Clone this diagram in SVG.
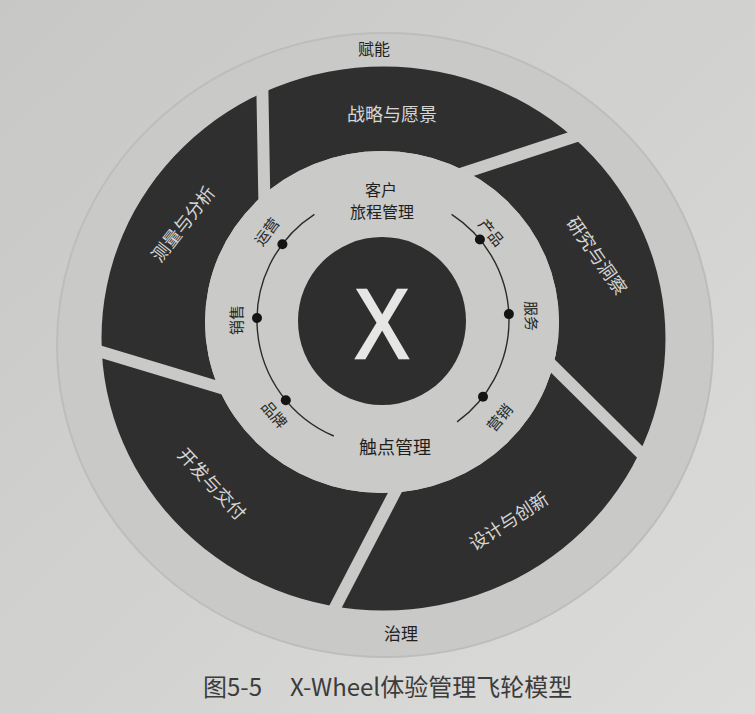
<svg xmlns="http://www.w3.org/2000/svg" width="755" height="714" viewBox="0 0 755 714">
  <style>
    .cjk { font-family: "Noto Sans CJK SC", "Liberation Sans", sans-serif; }
    .seg { fill: #2f2f2f; }
    .segtxt { font-size: 18px; fill: #d6d6d4; text-anchor: middle; dominant-baseline: central; }
    .small { font-size: 15px; fill: #262626; text-anchor: middle; dominant-baseline: central; }
    .title { font-size: 17px; fill: #1f1f1f; text-anchor: middle; dominant-baseline: central; }
    .gap { stroke: #c9c9c7; stroke-width: 12; fill: none; }
    .arc { stroke: #2a2a2a; stroke-width: 1.4; fill: none; }
    .dot { fill: #141414; }
  </style>
  <defs>
    <linearGradient id="bg" x1="0" y1="0" x2="1" y2="1">
      <stop offset="0" stop-color="#c7c7c5"/>
      <stop offset="1" stop-color="#dcdcda"/>
    </linearGradient>
    <path id="ring" fill-rule="evenodd" d="M 101.5 338.5 A 282 272 0 1 0 665.5 338.5 A 282 272 0 1 0 101.5 338.5 Z M 205 322 A 177 171 0 1 0 559 322 A 177 171 0 1 0 205 322 Z"/>
    <clipPath id="c1"><polygon points="265,237 259,-100 900,-100 900,30"/></clipPath>
    <clipPath id="c2"><polygon points="384,199 900,30 900,709"/></clipPath>
    <clipPath id="c3"><polygon points="491,305 1000,808 1000,1000 131,1000"/></clipPath>
    <clipPath id="c4"><polygon points="418,448 131,1000 -200,1000 -200,262"/></clipPath>
    <clipPath id="c5"><polygon points="271,403 -200,261 -200,-100 259,-100"/></clipPath>
    <clipPath id="outerClip"><ellipse cx="383.5" cy="338.5" rx="283" ry="273"/></clipPath>
  </defs>

  <rect width="755" height="714" fill="url(#bg)"/>

  <g id="outer-disc">
    <ellipse cx="385" cy="345" rx="328" ry="312" fill="#c9c9c7" stroke="#bdbdbb" stroke-width="2"/>
    <text class="cjk title" x="374" y="48" style="font-size:16px">赋能</text>
    <text class="cjk title" x="401" y="632">治理</text>
  </g>

  <g id="seg-strategy">
    <use href="#ring" class="seg" clip-path="url(#c1)"/>
    <text class="cjk segtxt" x="392" y="113">战略与愿景</text>
  </g>
  <g id="seg-research">
    <use href="#ring" class="seg" clip-path="url(#c2)"/>
    <text class="cjk segtxt" transform="translate(598,255) rotate(55)">研究与洞察</text>
  </g>
  <g id="seg-design">
    <use href="#ring" class="seg" clip-path="url(#c3)"/>
    <text class="cjk segtxt" transform="translate(508,520) rotate(-33)">设计与创新</text>
  </g>
  <g id="seg-develop">
    <use href="#ring" class="seg" clip-path="url(#c4)"/>
    <text class="cjk segtxt" transform="translate(213,483) rotate(47)">开发与交付</text>
  </g>
  <g id="seg-measure">
    <use href="#ring" class="seg" clip-path="url(#c5)"/>
    <text class="cjk segtxt" transform="translate(182,223) rotate(-52)">测量与分析</text>
  </g>

  <g id="gaps" clip-path="url(#outerClip)">
    <line class="gap" x1="265" y1="237" x2="259" y2="-100"/>
    <line class="gap" x1="384" y1="199" x2="900" y2="30"/>
    <line class="gap" x1="491" y1="305" x2="1000" y2="808"/>
    <line class="gap" x1="418" y1="448" x2="131" y2="1000"/>
    <line class="gap" x1="271" y1="403" x2="-200" y2="261"/>
  </g>

  <g id="journey-ring">
    <ellipse cx="382" cy="322" rx="177" ry="171" fill="#cacac8"/>
    <text class="cjk title" x="381" y="189" style="font-size:16px">客户</text>
    <text class="cjk title" x="382" y="211" style="font-size:16px">旅程管理</text>
    <text class="cjk title" x="395" y="446" style="font-size:18px">触点管理</text>
  </g>

  <g id="touchpoints">
    <path class="arc" d="M 333.8 436 A 126 126 0 0 1 314.4 214.3"/>
    <path class="arc" d="M 451.6 214.3 A 126 126 0 0 1 457.1 421.9"/>
    <circle class="dot" cx="282.4" cy="244.2" r="5"/>
    <circle class="dot" cx="257" cy="318" r="5"/>
    <circle class="dot" cx="285.8" cy="400.2" r="5"/>
    <circle class="dot" cx="479.9" cy="239.5" r="5"/>
    <circle class="dot" cx="508.9" cy="314.1" r="5"/>
    <circle class="dot" cx="483" cy="396.7" r="5"/>
    <text class="cjk small" transform="translate(266,231) rotate(-53)">运营</text>
    <text class="cjk small" transform="translate(235,320) rotate(-90)">销售</text>
    <text class="cjk small" transform="translate(275,414) rotate(49)">品牌</text>
    <text class="cjk small" transform="translate(492,232) rotate(51)">产品</text>
    <text class="cjk small" transform="translate(532,316) rotate(88)">服务</text>
    <text class="cjk small" transform="translate(499,417) rotate(-50)">营销</text>
  </g>

  <g id="core-x">
    <circle cx="382" cy="321" r="84" fill="#2e2e2e"/>
    <text transform="translate(382,358) scale(0.84,1)" text-anchor="middle" font-family="Liberation Sans, Arial, sans-serif" font-size="98" fill="#e6e6e4" stroke="#e6e6e4" stroke-width="2.5">X</text>
  </g>

  <g id="caption" class="cjk" fill="#3c3c3c" font-size="24px">
    <text x="203" y="685" dominant-baseline="central">图5-5</text>
    <text x="290" y="685" dominant-baseline="central">X-Wheel体验管理飞轮模型</text>
  </g>
</svg>
